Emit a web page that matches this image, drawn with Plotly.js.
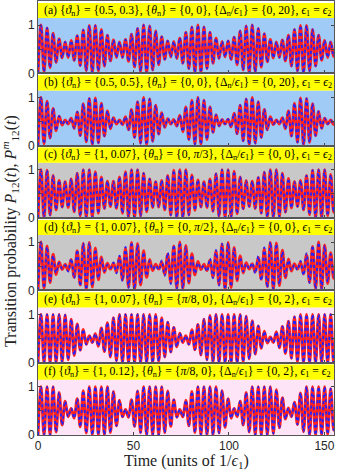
<!DOCTYPE html>
<html>
<head>
<meta charset="utf-8">
<script src="https://cdn.plot.ly/plotly-3.0.1.min.js"></script>
<style>
  html, body { margin: 0; padding: 0; background: #fff; }
  #chart { width: 338px; height: 476px; }
</style>
</head>
<body>
<div id="chart"></div>
<script>
// times of the successive minima / maxima (units of 1/eps1)
var tExt = [0, 1.58, 3.16, 4.74, 6.32, 7.9, 9.48, 11.06, 12.64, 14.22,
  15.8, 17.38, 18.96, 20.54, 22.12, 23.7, 25.28, 26.86, 28.44, 30.02,
  31.6, 33.18, 34.76, 36.34, 37.92, 39.5, 41.08, 42.66, 44.24, 45.82,
  47.4, 48.98, 50.56, 52.14, 53.72, 55.3, 56.88, 58.46, 60.04, 61.62,
  63.2, 64.78, 66.36, 67.94, 69.52, 71.1, 72.68, 74.26, 75.84, 77.42,
  79, 80.58, 82.16, 83.74, 85.32, 86.9, 88.48, 90.06, 91.64, 93.22,
  94.8, 96.38, 97.96, 99.54, 101.12, 102.7, 104.28, 105.86, 107.44, 109.02,
  110.6, 112.18, 113.76, 115.34, 116.92, 118.5, 120.08, 121.66, 123.24, 124.82,
  126.4, 127.98, 129.56, 131.14, 132.72, 134.3, 135.88, 137.46, 139.04, 140.62,
  142.2, 143.78, 145.36, 146.94, 148.52, 150.1, 151.68, 153.26, 154.84, 156.42];

// panel (a)
var pA = [0.00,1.00,0.03,0.94,0.12,0.83,0.23,0.71,0.32,0.65,
  0.33,0.68,0.27,0.78,0.16,0.90,0.06,0.99,0.01,0.99,
  0.05,0.91,0.15,0.79,0.26,0.69,0.33,0.65,0.33,0.70,
  0.25,0.81,0.13,0.93,0.04,1.00,0.01,0.98,0.07,0.88,
  0.18,0.76,0.29,0.67,0.34,0.66,0.31,0.73,0.21,0.85,
  0.10,0.96,0.02,1.00,0.02,0.96,0.10,0.85,0.21,0.73,
  0.31,0.66,0.34,0.67,0.29,0.75,0.18,0.88,0.07,0.98,
  0.01,1.00,0.03,0.93,0.13,0.82,0.24,0.70,0.32,0.65,
  0.33,0.69,0.26,0.79,0.15,0.91,0.05,0.99,0.01,0.99,
  0.05,0.91,0.15,0.79,0.27,0.68,0.33,0.65,0.35,0.64];

// panel (b)
var pB = [0.00,1.00,0.04,0.92,0.16,0.77,0.31,0.61,0.43,0.53,
  0.45,0.57,0.36,0.70,0.21,0.87,0.08,0.98,0.02,0.99,
  0.06,0.88,0.20,0.72,0.35,0.58,0.45,0.53,0.44,0.60,
  0.33,0.75,0.17,0.91,0.05,1.00,0.02,0.97,0.09,0.84,
  0.24,0.68,0.38,0.56,0.45,0.54,0.41,0.63,0.29,0.80,
  0.13,0.94,0.03,1.00,0.03,0.94,0.13,0.80,0.28,0.64,
  0.41,0.54,0.45,0.55,0.39,0.67,0.25,0.84,0.10,0.97,
  0.02,1.00,0.05,0.91,0.17,0.75,0.33,0.60,0.44,0.53,
  0.45,0.58,0.35,0.72,0.20,0.88,0.07,0.99,0.02,0.98,
  0.07,0.87,0.21,0.71,0.36,0.57,0.45,0.53,0.44,0.60];

// panel (c)
var pC = [0.00,1.00,0.01,0.99,0.06,0.88,0.17,0.78,0.23,0.75,
  0.22,0.81,0.13,0.93,0.04,1.00,0.01,1.00,0.02,0.96,
  0.10,0.85,0.20,0.76,0.24,0.76,0.20,0.85,0.10,0.96,
  0.02,1.00,0.01,1.00,0.04,0.93,0.13,0.81,0.22,0.75,
  0.23,0.78,0.17,0.88,0.06,0.99,0.01,1.00,0.01,1.00,
  0.06,0.89,0.16,0.79,0.23,0.75,0.22,0.81,0.14,0.92,
  0.04,1.00,0.01,1.00,0.02,0.97,0.09,0.85,0.19,0.77,
  0.24,0.76,0.20,0.84,0.10,0.95,0.02,1.00,0.01,1.00,
  0.03,0.93,0.12,0.82,0.21,0.75,0.24,0.78,0.17,0.88,
  0.07,0.99,0.01,1.00,0.01,1.00,0.05,0.90,0.12,0.80];

// panel (d), red curve
var pD = [0.00,1.00,0.04,0.92,0.16,0.75,0.33,0.59,0.43,0.54,
  0.41,0.64,0.27,0.82,0.11,0.97,0.02,0.99,0.07,0.88,
  0.22,0.69,0.37,0.56,0.44,0.56,0.38,0.69,0.22,0.87,
  0.07,0.99,0.02,0.97,0.11,0.82,0.27,0.64,0.41,0.54,
  0.44,0.59,0.33,0.75,0.16,0.92,0.04,1.00,0.03,0.93,
  0.15,0.76,0.32,0.60,0.43,0.54,0.41,0.63,0.28,0.81,
  0.12,0.96,0.02,0.99,0.06,0.89,0.20,0.71,0.36,0.57,
  0.44,0.55,0.38,0.68,0.23,0.86,0.08,0.99,0.02,0.98,
  0.10,0.83,0.26,0.65,0.40,0.55,0.44,0.58,0.34,0.74,
  0.17,0.91,0.04,1.00,0.03,0.94,0.14,0.78,0.25,0.70];

// panel (d), blue curve (slightly off the red one)
var pDm = [0.00,1.00,0.05,0.90,0.19,0.72,0.36,0.57,0.45,0.52,
  0.39,0.66,0.25,0.84,0.09,0.98,0.02,0.98,0.09,0.85,
  0.25,0.66,0.40,0.53,0.46,0.58,0.35,0.72,0.19,0.90,
  0.05,1.00,0.03,0.95,0.14,0.79,0.30,0.61,0.43,0.52,
  0.42,0.62,0.30,0.78,0.13,0.94,0.03,0.99,0.04,0.90,
  0.18,0.73,0.35,0.57,0.45,0.52,0.39,0.66,0.25,0.84,
  0.10,0.97,0.02,0.98,0.08,0.86,0.23,0.68,0.39,0.55,
  0.45,0.57,0.35,0.71,0.20,0.89,0.06,1.00,0.03,0.96,
  0.13,0.80,0.29,0.62,0.42,0.53,0.42,0.61,0.31,0.77,
  0.15,0.93,0.03,0.99,0.04,0.92,0.17,0.75,0.28,0.67];

// panel (e)
var pE = [0.00,1.00,0.00,1.00,0.00,1.00,0.00,1.00,0.01,0.99,
  0.06,0.90,0.15,0.80,0.26,0.69,0.38,0.56,0.42,0.60,
  0.34,0.72,0.23,0.83,0.12,0.93,0.04,1.00,0.00,1.00,
  0.00,1.00,0.00,1.00,0.00,1.00,0.00,1.00,0.00,1.00,
  0.03,0.93,0.12,0.84,0.22,0.73,0.33,0.61,0.42,0.56,
  0.38,0.68,0.27,0.79,0.16,0.90,0.06,0.98,0.01,1.00,
  0.00,1.00,0.00,1.00,0.00,1.00,0.00,1.00,0.02,0.96,
  0.08,0.87,0.18,0.76,0.30,0.65,0.41,0.53,0.42,0.64,
  0.31,0.75,0.19,0.86,0.09,0.95,0.02,1.00,0.00,1.00,
  0.00,1.00,0.00,1.00,0.00,1.00,0.00,1.00,0.00,1.00];

// panel (f)
var pF = [0.00,1.00,0.00,1.00,0.00,1.00,0.06,0.88,0.21,0.70,
  0.38,0.55,0.35,0.75,0.17,0.92,0.04,1.00,0.00,1.00,
  0.00,1.00,0.00,1.00,0.05,0.90,0.19,0.72,0.38,0.53,
  0.37,0.73,0.18,0.91,0.05,1.00,0.00,1.00,0.00,1.00,
  0.00,1.00,0.05,0.91,0.18,0.73,0.37,0.53,0.38,0.72,
  0.19,0.90,0.05,1.00,0.00,1.00,0.00,1.00,0.00,1.00,
  0.04,0.92,0.16,0.75,0.35,0.55,0.38,0.70,0.21,0.88,
  0.06,1.00,0.00,1.00,0.00,1.00,0.00,1.00,0.03,0.94,
  0.15,0.77,0.33,0.56,0.38,0.68,0.22,0.87,0.07,1.00,
  0.00,1.00,0.00,1.00,0.00,1.00,0.02,0.96,0.10,0.85];

var redSeries = [pA, pB, pC, pD, pE, pF];
var blueSeries = [pA, pB, pC, pDm, pE, pF];

var panelLabels = [
  '(a) {<i>ϑ</i><sub>n</sub>} = {0.5, 0.3}, {<i>θ</i><sub>n</sub>} = {0, 0}, {Δ<sub>n</sub>/<i>ϵ</i><sub>1</sub>} = {0, 20}, <i>ϵ</i><sub>1</sub> = <i>ϵ</i><sub>2</sub>',
  '(b) {<i>ϑ</i><sub>n</sub>} = {0.5, 0.5}, {<i>θ</i><sub>n</sub>} = {0, 0}, {Δ<sub>n</sub>/<i>ϵ</i><sub>1</sub>} = {0, 20}, <i>ϵ</i><sub>1</sub> = <i>ϵ</i><sub>2</sub>',
  '(c) {<i>ϑ</i><sub>n</sub>} = {1, 0.07}, {<i>θ</i><sub>n</sub>} = {0, <i>π</i>/3}, {Δ<sub>n</sub>/<i>ϵ</i><sub>1</sub>} = {0, 0}, <i>ϵ</i><sub>1</sub> = <i>ϵ</i><sub>2</sub>',
  '(d) {<i>ϑ</i><sub>n</sub>} = {1, 0.07}, {<i>θ</i><sub>n</sub>} = {0, <i>π</i>/2}, {Δ<sub>n</sub>/<i>ϵ</i><sub>1</sub>} = {0, 0}, <i>ϵ</i><sub>1</sub> = <i>ϵ</i><sub>2</sub>',
  '(e) {<i>ϑ</i><sub>n</sub>} = {1, 0.07}, {<i>θ</i><sub>n</sub>} = {<i>π</i>/8, 0}, {Δ<sub>n</sub>/<i>ϵ</i><sub>1</sub>} = {0, 2}, <i>ϵ</i><sub>1</sub> = <i>ϵ</i><sub>2</sub>',
  '(f) {<i>ϑ</i><sub>n</sub>} = {1, 0.12}, {<i>θ</i><sub>n</sub>} = {<i>π</i>/8, 0}, {Δ<sub>n</sub>/<i>ϵ</i><sub>1</sub>} = {0, 2}, <i>ϵ</i><sub>1</sub> = <i>ϵ</i><sub>2</sub>'
];
var panelColors = ['#9fcbf6', '#9fcbf6', '#c8c8c8', '#c8c8c8', '#fde4f6', '#fde4f6'];

var serif = 'Liberation Serif, DejaVu Serif, serif';
var data = [];
var layout = {
  width: 338, height: 476,
  margin: {l: 38, r: 4, t: 1, b: 41},
  paper_bgcolor: '#ffffff',
  plot_bgcolor: 'rgba(0,0,0,0)',
  showlegend: false,
  font: {family: 'Liberation Sans, Arial, sans-serif', size: 12, color: '#262626'},
  shapes: [],
  annotations: []
};

for (var i = 0; i < 6; i++) {
  var n = i === 0 ? '' : String(i + 1);
  var dTop = 1 - i / 6, dBot = 1 - (i + 1) / 6;
  layout['xaxis' + n] = {
    domain: [0, 1], anchor: 'y' + n, range: [0, 155],
    tickvals: [0, 50, 100, 150], ticks: 'inside', ticklen: 3,
    showticklabels: i === 5, showline: true, linecolor: '#555555', linewidth: 1,
    mirror: true, zeroline: false, showgrid: false,
    tickfont: {size: 12, color: '#262626'}
  };
  if (i > 0) layout['xaxis' + n].matches = 'x';
  layout['yaxis' + n] = {
    domain: [dBot, dTop], anchor: 'x' + n, range: [0, 1.5],
    tickvals: [0, 0.5, 1], ticktext: ['0', '', '1'], ticks: 'inside', ticklen: 3,
    showline: true, linecolor: '#555555', linewidth: 1, mirror: 'ticks',
    zeroline: false, showgrid: false,
    tickfont: {size: 12, color: '#262626'}
  };
  layout.shapes.push({
    type: 'rect', layer: 'below', xref: 'x' + n + ' domain', yref: 'y' + n,
    x0: 0, x1: 1, y0: 0, y1: 1.146, fillcolor: panelColors[i], line: {width: 0}
  });
  layout.shapes.push({
    type: 'rect', layer: 'below', xref: 'x' + n + ' domain', yref: 'y' + n,
    x0: 0, x1: 1, y0: 1.146, y1: 1.46, fillcolor: '#ffff00', line: {width: 0}
  });
  layout.annotations.push({
    xref: 'x' + n + ' domain', yref: 'y' + n, x: 0.013, y: 1.30,
    xanchor: 'left', yanchor: 'middle', showarrow: false,
    text: panelLabels[i], font: {family: serif, size: 11.7, color: '#000'}
  });
  data.push({
    x: tExt, y: redSeries[i], xaxis: 'x' + n, yaxis: 'y' + n,
    type: 'scatter', mode: 'lines', hoverinfo: 'skip',
    line: {color: '#ff2020', width: 3, shape: 'spline', smoothing: 1}
  });
  data.push({
    x: tExt, y: blueSeries[i], xaxis: 'x' + n, yaxis: 'y' + n,
    type: 'scatter', mode: 'lines', hoverinfo: 'skip',
    line: {color: '#2222ff', width: 1.8, dash: '3px,3px', shape: 'spline', smoothing: 1}
  });
}

layout.annotations.push({
  xref: 'paper', yref: 'paper', x: -0.095, y: 0.47, textangle: -90,
  xanchor: 'center', yanchor: 'middle', showarrow: false,
  text: 'Transition probability <i>P</i><sub>12</sub>(<i>t</i>), <i>P</i><sup><i>m</i></sup><sub>12</sub>(<i>t</i>)',
  font: {family: serif, size: 16, color: '#222'}
});
layout.annotations.push({
  xref: 'paper', yref: 'paper', x: 0.5, y: -0.035,
  xanchor: 'center', yanchor: 'top', showarrow: false,
  text: 'Time (units of 1/<i>ϵ</i><sub>1</sub>)',
  font: {family: serif, size: 16, color: '#222'}
});

Plotly.newPlot('chart', data, layout, {displayModeBar: false, staticPlot: true});
</script>
</body>
</html>
